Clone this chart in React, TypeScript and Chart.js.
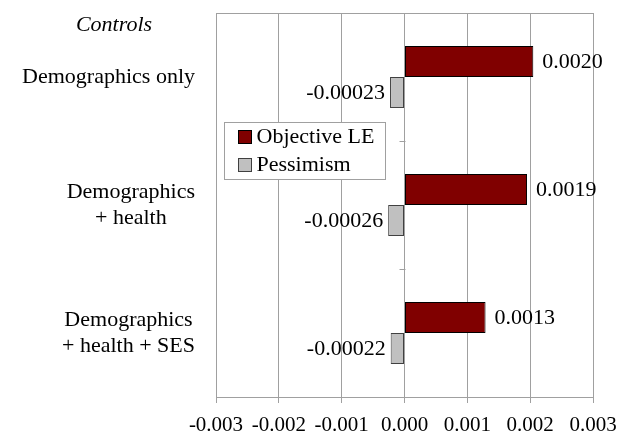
import { useEffect, useRef } from "react";
import { Chart, registerables } from "chart.js";

Chart.register(...registerables);

const categories: string[][] = [
  ["Demographics only"],
  ["Demographics", "+ health"],
  ["Demographics", "+ health + SES"],
];
const seriesNames = ["Objective LE", "Pessimism"];
const objectiveLE = [0.00205, 0.00195, 0.00129];
const pessimism = [-0.00023, -0.00026, -0.00022];
const objectiveLabels = ["0.0020", "0.0019", "0.0013"];
const pessimismLabels = ["-0.00023", "-0.00026", "-0.00022"];
const xTickLabels = ["-0.003", "-0.002", "-0.001", "0.000", "0.001", "0.002", "0.003"];
const axisTitle = "Controls";

const FONT = "'Liberation Serif', 'Times New Roman', serif";
const GRID = "#a0a0a0";
const TEXT = "#000000";

const overlayPlugin = {
  id: "overlay",
  afterDatasetsDraw(chart: any) {
    const ctx: CanvasRenderingContext2D = chart.ctx;
    const ca = chart.chartArea;
    const xs = chart.scales.x;
    const ys = chart.scales.y;
    ctx.save();

    // top border of plot area
    ctx.strokeStyle = GRID;
    ctx.lineWidth = 1;
    ctx.beginPath();
    ctx.moveTo(ca.left, Math.round(ca.top) + 0.5);
    ctx.lineTo(ca.right, Math.round(ca.top) + 0.5);
    ctx.stroke();

    // category tick marks on the zero line
    const x0 = Math.round(xs.getPixelForValue(0)) + 0.5;
    for (let i = 0; i < categories.length - 1; i++) {
      const py = Math.round((ys.getPixelForValue(i) + ys.getPixelForValue(i + 1)) / 2) + 0.5;
      ctx.beginPath();
      ctx.moveTo(x0 - 6, py);
      ctx.lineTo(x0, py);
      ctx.stroke();
    }

    // value labels
    ctx.fillStyle = TEXT;
    ctx.font = `22px ${FONT}`;
    ctx.textBaseline = "middle";
    const labelSets = [objectiveLabels, pessimismLabels];
    chart.data.datasets.forEach((ds: any, di: number) => {
      const meta = chart.getDatasetMeta(di);
      meta.data.forEach((el: any, i: number) => {
        const v = ds.data[i];
        const txt = labelSets[di][i];
        if (v >= 0) {
          ctx.textAlign = "left";
          ctx.fillText(txt, el.x + 9, el.y + 1);
        } else {
          ctx.textAlign = "right";
          ctx.fillText(txt, el.x - 5, el.y + 1);
        }
      });
    });

    // category labels (block right-aligned, lines centered)
    ctx.font = `22px ${FONT}`;
    ctx.textAlign = "center";
    const lineH = 26;
    const rightEdge = ys.right - 21;
    categories.forEach((lines, i) => {
      const cy = ys.getPixelForValue(i);
      const w = Math.max(...lines.map((l) => ctx.measureText(l).width));
      const cx = rightEdge - w / 2;
      const startY = cy - ((lines.length - 1) * lineH) / 2;
      lines.forEach((l, li) => ctx.fillText(l, cx, startY + li * lineH));
    });

    // axis title
    ctx.font = `italic 22px ${FONT}`;
    ctx.fillText(axisTitle, ys.right - 102, ca.top + 12);

    // legend box
    const lx = ca.left + 8.5;
    const ly = ca.top + 109.5;
    const lw = 161;
    const lh = 57;
    ctx.fillStyle = "#ffffff";
    ctx.fillRect(lx, ly, lw, lh);
    ctx.strokeStyle = GRID;
    ctx.strokeRect(lx, ly, lw, lh);
    ctx.font = `22px ${FONT}`;
    ctx.textAlign = "left";
    chart.data.datasets.forEach((ds: any, di: number) => {
      const ry = ly + 14 + di * 28;
      ctx.fillStyle = ds.backgroundColor;
      ctx.fillRect(lx + 14, ry - 6, 13, 13);
      ctx.strokeStyle = ds.borderColor;
      ctx.strokeRect(lx + 14, ry - 6, 13, 13);
      ctx.fillStyle = TEXT;
      ctx.fillText(ds.label, lx + 32, ry + 1);
    });

    ctx.restore();
  },
};

export default function App() {
  const ref = useRef<HTMLCanvasElement | null>(null);

  useEffect(() => {
    if (!ref.current) return;
    const chart = new Chart(ref.current, {
      type: "bar",
      data: {
        labels: categories.map((c) => c.join(" ")),
        datasets: [
          {
            label: seriesNames[0],
            data: objectiveLE,
            backgroundColor: "#800000",
            borderColor: "#000000",
            borderWidth: 1,
            borderSkipped: false,
            barPercentage: 1,
            categoryPercentage: 0.485,
          },
          {
            label: seriesNames[1],
            data: pessimism,
            backgroundColor: "#c0c0c0",
            borderColor: "#404040",
            borderWidth: 1,
            borderSkipped: false,
            barPercentage: 1,
            categoryPercentage: 0.485,
          },
        ],
      },
      options: {
        indexAxis: "y",
        animation: false,
        responsive: true,
        maintainAspectRatio: false,
        layout: { padding: { top: 13, right: 26, left: 0, bottom: 0 } },
        plugins: {
          legend: { display: false },
          tooltip: { enabled: false },
          title: { display: false },
        },
        scales: {
          x: {
            type: "linear",
            min: -0.003,
            max: 0.003,
            ticks: {
              stepSize: 0.001,
              color: TEXT,
              font: { family: FONT, size: 21 },
              padding: 10,
              maxRotation: 0,
              callback: (_v: any, i: number) => xTickLabels[i],
            },
            grid: { color: GRID, tickLength: 6, drawTicks: true },
            border: { display: true, color: GRID },
            afterFit: (s: any) => {
              s.height = 37;
              s.paddingLeft = 0;
              s.paddingRight = 0;
            },
          },
          y: {
            type: "category",
            offset: true,
            ticks: { display: false },
            grid: { display: false },
            border: { display: true, color: GRID },
            afterFit: (s: any) => {
              s.width = 216;
              s.paddingTop = 0;
              s.paddingBottom = 0;
            },
          },
        },
      },
      plugins: [overlayPlugin],
    });
    return () => chart.destroy();
  }, []);

  return (
    <div style={{ position: "fixed", left: 0, top: 0, width: 619, height: 434, background: "#fff" }}>
      <canvas ref={ref} />
    </div>
  );
}
